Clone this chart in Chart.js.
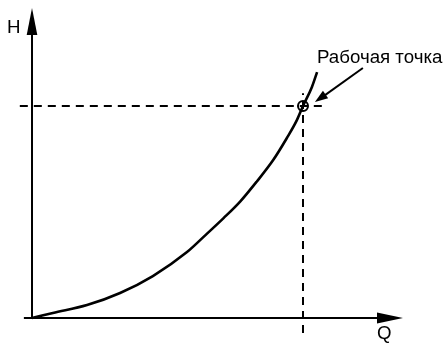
<!DOCTYPE html>
<html>
<head>
<meta charset="utf-8">
<script src="https://cdn.jsdelivr.net/npm/chart.js@4.4.0/dist/chart.umd.min.js"></script>
<style>
  html, body { margin: 0; padding: 0; background: #ffffff; }
  #wrap { width: 446px; height: 343px; position: relative; }
</style>
</head>
<body>
<div id="wrap"><canvas id="c" width="446" height="343"></canvas></div>
<script>
// ---- data (Q, H in relative units; working point = (10, 10)) ----
const curveQ = [0, 0.77, 2.03, 3.25, 4.46, 5.72, 6.45, 7.06, 7.68, 8.29, 8.90, 9.40, 9.77, 10.0, 10.33, 10.52];
const curveH = [0, 0.24, 0.61, 1.18, 1.98, 3.11, 3.97, 4.70, 5.49, 6.43, 7.45, 8.48, 9.32, 10.0, 10.90, 11.60];
const workQ = [10];
const workH = [10];
const axisLabels = ["H", "Q"];
const pointLabel = ["Рабочая точка"];

const Qmin = -1.181, Qmax = 15.277;
const Hmin = -1.179, Hmax = 15.0;

const curve = curveQ.map((q, i) => ({ x: q, y: curveH[i] }));
const work = workQ.map((q, i) => ({ x: q, y: workH[i] }));

const black = '#000000';

const overlay = {
  id: 'overlay',
  afterDatasetsDraw(chart) {
    const ctx = chart.ctx;
    const X = v => chart.scales.x.getPixelForValue(v);
    const Y = v => chart.scales.y.getPixelForValue(v);
    function head(fq, fh, tq, th, len, hw) {
      const x1 = X(fq), y1 = Y(fh), x2 = X(tq), y2 = Y(th);
      const dx = x2 - x1, dy = y2 - y1, d = Math.hypot(dx, dy);
      const ux = dx / d, uy = dy / d;
      const bx = x2 - ux * len, by = y2 - uy * len;
      ctx.beginPath();
      ctx.moveTo(x2, y2);
      ctx.lineTo(bx - uy * hw, by + ux * hw);
      ctx.lineTo(bx + uy * hw, by - ux * hw);
      ctx.closePath();
      ctx.fill();
    }
    ctx.save();
    ctx.fillStyle = black;
    // axis arrowheads
    head(0, 0, 13.69, 0, 26, 5.5);
    head(0, 0, 0, 14.62, 27, 5.3);
    // pointer arrowhead
    head(12.21, 11.79, 10.44, 10.19, 13, 4.5);
    // texts
    ctx.font = '18.7px "Liberation Sans", Arial, sans-serif';
    ctx.textBaseline = 'alphabetic';
    ctx.textAlign = 'left';
    ctx.fillText(axisLabels[0], X(0) - 25, Y(0) - 285);
    ctx.fillText(axisLabels[1], X(0) + 345, Y(0) + 21);
    ctx.fillText(pointLabel[0], X(workQ[0]) + 14, Y(workH[0]) - 43);
    ctx.restore();
  }
};

new Chart(document.getElementById('c'), {
  type: 'scatter',
  data: {
    datasets: [
      { // curve
        data: curve, showLine: true, borderColor: black, borderWidth: 2.6,
        pointRadius: 0, cubicInterpolationMode: 'monotone', fill: false
      },
      { // horizontal dashed
        data: [{ x: -0.45, y: 10 }, { x: 10.74, y: 10 }], showLine: true,
        borderColor: black, borderWidth: 2, borderDash: [8, 6], pointRadius: 0
      },
      { // vertical dashed
        data: [{ x: 10, y: -0.71 }, { x: 10, y: 10.6 }], showLine: true,
        borderColor: black, borderWidth: 2, borderDash: [8, 6], pointRadius: 0
      },
      { // x axis
        data: [{ x: -0.3, y: 0 }, { x: 13.0, y: 0 }], showLine: true,
        borderColor: black, borderWidth: 2, pointRadius: 0
      },
      { // y axis
        data: [{ x: 0, y: 0 }, { x: 0, y: 13.6 }], showLine: true,
        borderColor: black, borderWidth: 2, pointRadius: 0
      },
      { // pointer line
        data: [{ x: 12.21, y: 11.79 }, { x: 10.8, y: 10.5 }], showLine: true,
        borderColor: black, borderWidth: 2, pointRadius: 0
      },
      { // working point
        data: work, showLine: false, pointRadius: 5, pointBorderWidth: 2,
        pointBorderColor: black, pointBackgroundColor: 'rgba(0,0,0,0)', pointHoverRadius: 5
      }
    ]
  },
  options: {
    responsive: false,
    animation: false,
    layout: { padding: 0, autoPadding: false },
    plugins: { legend: { display: false }, tooltip: { enabled: false } },
    scales: {
      x: { type: 'linear', display: false, min: Qmin, max: Qmax },
      y: { type: 'linear', display: false, min: Hmin, max: Hmax }
    }
  },
  plugins: [overlay]
});
</script>
</body>
</html>
